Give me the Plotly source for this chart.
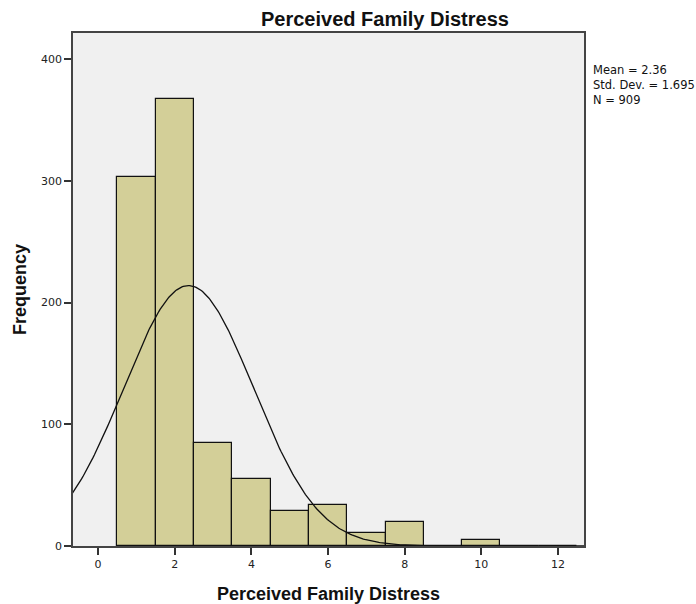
import numpy as np
import plotly.graph_objects as go

# Data
bin_centers = [1, 2, 3, 4, 5, 6, 7, 8, 9, 10, 11, 12]
frequencies = [303, 367, 85, 55, 29, 34, 11, 20, 0, 5, 0, 0]
mean_val = 2.36
std_val = 1.695
n_val = 909
x_ticks = [0, 2, 4, 6, 8, 10, 12]
y_ticks = [0, 100, 200, 300, 400]

W, H = 696, 604
L, R, T, B = 73, 584, 33, 546

fig = go.Figure()
fig.add_trace(go.Bar(
    x=bin_centers, y=frequencies, width=1.0,
    marker=dict(color="#D3CF98", line=dict(color="#111111", width=1.2)),
    hoverinfo="x+y",
))

xs = np.linspace(-0.7, 12.7, 400)
ys = n_val * 1.0 / (std_val * np.sqrt(2 * np.pi)) * np.exp(-0.5 * ((xs - mean_val) / std_val) ** 2)
fig.add_trace(go.Scatter(x=xs, y=ys, mode="lines", line=dict(color="#111111", width=1.3)))

bold_font = "Liberation Sans, Arial, sans-serif"
tick_font = "DejaVu Sans, sans-serif"


def px_x(sx):
    return (sx - L) / (R - L)


def px_y(sy):
    return (B - sy) / (B - T)


annotations = [
    dict(text="<b>Perceived Family Distress</b>", xref="paper", yref="paper",
         x=px_x(385), y=1, yanchor="bottom", xanchor="center", yshift=1,
         showarrow=False, font=dict(size=20, color="#111111", family=bold_font)),
    dict(text="Mean = %.2f<br>Std. Dev. = %.3f<br>N = %d" % (mean_val, std_val, n_val),
         xref="paper", yref="paper", x=px_x(591), y=px_y(61),
         xanchor="left", yanchor="top", align="left", showarrow=False,
         font=dict(size=11.5, color="#111111", family=tick_font)),
]

fig.update_layout(
    width=W, height=H,
    margin=dict(l=L, r=W - R, t=T, b=H - B, autoexpand=False),
    paper_bgcolor="white", plot_bgcolor="#F0F0F0",
    showlegend=False, bargap=0,
    font=dict(family=tick_font, size=11, color="#222222"),
    xaxis=dict(range=[-0.655, 12.68], tickvals=x_ticks, ticks="outside", ticklen=7,
               tickcolor="#333333", tickwidth=1.5, showgrid=False, zeroline=False,
               showline=True, linecolor="#444444", linewidth=1.5, mirror=True,
               tickfont=dict(size=11, color="#222222", family=tick_font), automargin=False,
               title=dict(text="<b>Perceived Family Distress</b>",
                          font=dict(size=18, color="#111111", family=bold_font), standoff=17)),
    yaxis=dict(range=[0, 421.5], tickvals=y_ticks, ticks="outside", ticklen=7,
               tickcolor="#333333", tickwidth=1.5, showgrid=False, zeroline=False,
               showline=True, linecolor="#444444", linewidth=1.5, mirror=True,
               tickfont=dict(size=11, color="#222222", family=tick_font), automargin=False,
               title=dict(text="<b>Frequency</b>",
                          font=dict(size=18, color="#111111", family=bold_font), standoff=10)),
    annotations=annotations,
)
fig.write_html("out.html", config={"displayModeBar": False},
               post_script="document.body.style.margin='0';document.body.style.overflow='hidden';")
